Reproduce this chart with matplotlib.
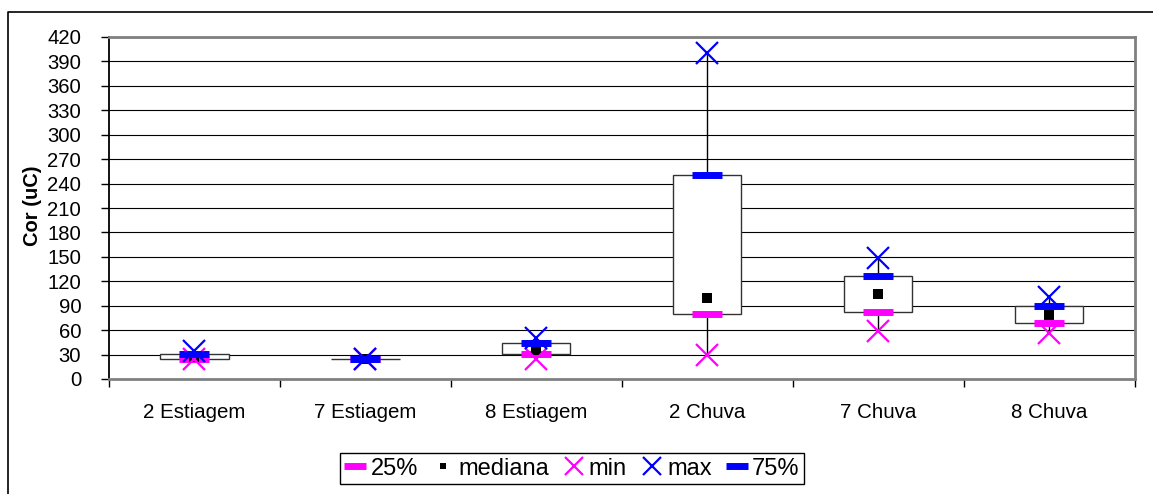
import numpy as np
import matplotlib
matplotlib.use('Agg')
import matplotlib.pyplot as plt
from matplotlib.patches import Rectangle
from matplotlib.lines import Line2D

plt.rcParams['font.family'] = ['Liberation Sans', 'DejaVu Sans']

categorias = ['2 Estiagem', '7 Estiagem', '8 Estiagem', '2 Chuva', '7 Chuva', '8 Chuva']
p25 = [25, 25, 31, 80, 82, 69]
mediana = [27, 25, 36, 100, 104, 78]
vmin = [24, 25, 25, 29, 59, 57]
vmax = [34, 25, 50, 400, 149, 101]
p75 = [31, 25, 44, 250, 127, 90]
yticks = list(range(0, 421, 30))

W, H = 1153, 494
fig = plt.figure(figsize=(W / 100, H / 100), dpi=100)
ax = fig.add_axes([109 / W, 1 - 379 / H, (1134.5 - 109) / W, (379 - 37) / H])

x = np.arange(len(categorias))
bw = 0.4

# caixas e linhas min-max
for i in x:
    ax.plot([i, i], [vmin[i], vmax[i]], color='black', lw=1, zorder=2)
    ax.add_patch(Rectangle((i - bw / 2, p25[i]), bw, p75[i] - p25[i],
                           facecolor='white', edgecolor='#333333', lw=1.0, zorder=3))

h25, = ax.plot(x, p25, ls='none', marker='_', ms=21, mew=5, color='#FF00FF', zorder=4, label='25%')
hmed, = ax.plot(x, mediana, ls='none', marker='s', ms=6.5, color='black', mew=0, zorder=5, label='mediana')
hmin, = ax.plot(x, vmin, ls='none', marker='x', ms=16.5, mew=1.6, color='#FF00FF', zorder=6, label='min')
hmax, = ax.plot(x, vmax, ls='none', marker='x', ms=16.5, mew=1.6, color='#0000FF', zorder=7, label='max')
h75, = ax.plot(x, p75, ls='none', marker='_', ms=21, mew=5, color='#0000FF', zorder=8, label='75%')

ax.set_xlim(-0.5, len(categorias) - 0.5)
ax.set_ylim(0, 420)
ax.set_yticks(yticks)
ax.yaxis.grid(True, color='black', lw=0.8)
ax.set_axisbelow(True)
ax.tick_params(axis='y', direction='out', length=6, width=1, pad=14, labelsize=14.6)

ax.set_xticks(np.arange(-0.5, len(categorias), 1.0))
ax.set_xticklabels([])
ax.set_xticks(x, minor=True)
ax.set_xticklabels(categorias, minor=True)
ax.tick_params(axis='x', which='major', direction='out', length=6, width=1, color='black')
ax.tick_params(axis='x', which='minor', length=0, pad=17, labelsize=14.8)

ax.spines['left'].set_color('black')
ax.spines['left'].set_linewidth(1.3)
for s in ['top', 'right', 'bottom']:
    ax.spines[s].set_color('#808080')
    ax.spines[s].set_linewidth(2)

fig.text(33 / W, 1 - 206 / H, 'Cor (uC)', rotation=90, ha='center', va='center',
         fontsize=14.5, fontweight='bold')

# borda externa
fig.add_artist(Line2D([8 / W, 8 / W, 1.01], [-0.01, 1 - 12 / H, 1 - 12 / H],
                      color='black', lw=1.2, transform=fig.transFigure))

leg = fig.legend(handles=[h25, hmed, hmin, hmax, h75], loc='center',
                 bbox_to_anchor=(572 / W, 1 - 468.5 / H), ncol=5, fontsize=17,
                 frameon=True, fancybox=False, edgecolor='black', framealpha=1,
                 handlelength=0.9, handletextpad=0.2, columnspacing=0.6,
                 borderpad=0.2, markerscale=0.75)
leg.get_frame().set_linewidth(1)

fig.savefig('out.png', dpi=100)
